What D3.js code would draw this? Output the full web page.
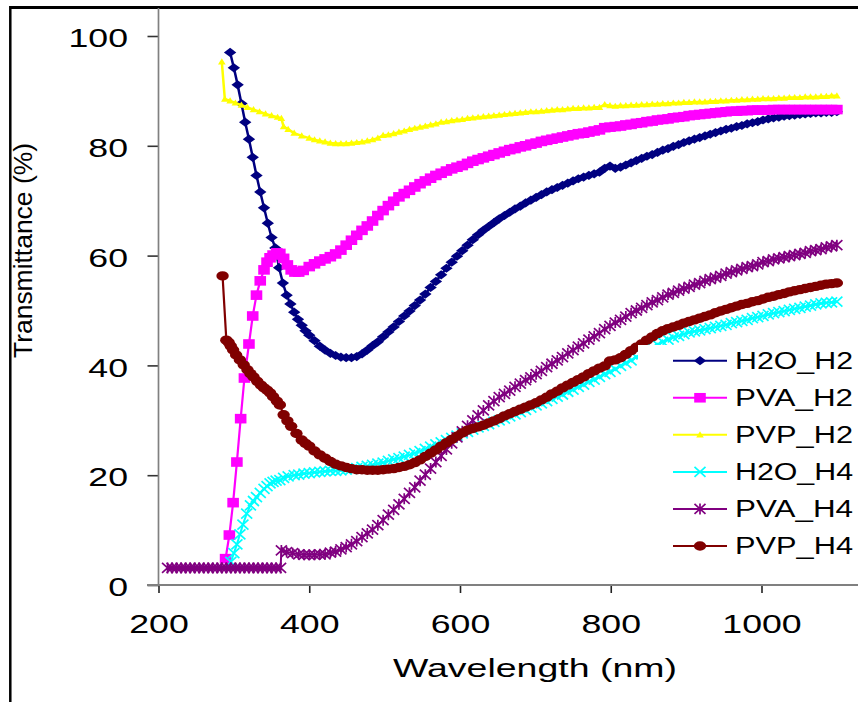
<!DOCTYPE html>
<html><head><meta charset="utf-8">
<script src="https://cdn.jsdelivr.net/npm/d3@7/dist/d3.min.js"></script>
<style>body{margin:0;background:#fff}svg{display:block}text{font-family:"Liberation Sans",Arial,sans-serif;fill:#000}</style>
</head><body><svg id="c" width="858" height="702"></svg>
<script>
// ---------- data ----------
const xTicks = [200, 400, 600, 800, 1000];
const yTicks = [0, 20, 40, 60, 80, 100];
const seriesNames = ["H2O_H2", "PVA_H2", "PVP_H2", "H2O_H4", "PVA_H4", "PVP_H4"];

// common wavelength grid (nm) of the dense part of every spectrum
const wlGrid = [400,407,414,421,428,435,442,449,456,463,470,477,484,491,498,505,512,519,526,533,540,547,554,561,568,575,582,589,596,603,610,617,624,631,638,645,652,659,666,673,680,687,694,701,708,715,722,729,736,743,750,757,764,771,778,785,792,799,806,813,820,827,834,841,848,855,862,869,876,883,890,897,904,911,918,925,932,939,946,953,960,967,974,981,988,995,1002,1009,1016,1023,1030,1037,1044,1051,1058,1065,1072,1079,1086,1093,1100];

// H2O_H2
const h2oH2EarlyX = [295,300,305,310,315,320,325,330,335,340,345,350,355,360,365,370,375,380,385,390,395];
const h2oH2EarlyY = [97.0,94.2,91.1,87.7,84.3,81.2,77.9,74.6,71.6,68.7,65.9,63.3,61.4,57.8,55.0,52.8,51.2,49.7,48.4,47.3,46.3];
const h2oH2GridY = [45.5,44.5,43.5,42.8,42.2,41.8,41.5,41.4,41.4,41.6,42.1,42.8,43.6,44.3,45.2,46.1,47.0,48.0,49.0,49.9,50.9,51.9,53.0,54.2,55.3,56.5,57.7,58.8,59.9,60.9,61.9,62.9,63.8,64.6,65.3,66.0,66.7,67.3,67.9,68.5,69.0,69.6,70.1,70.6,71.1,71.6,72.0,72.4,72.8,73.2,73.6,74.0,74.3,74.6,74.9,75.2,75.9,76.3,75.9,76.1,76.5,76.9,77.3,77.7,78.1,78.4,78.8,79.2,79.5,79.9,80.2,80.6,80.9,81.2,81.5,81.8,82.1,82.4,82.7,83.0,83.2,83.5,83.7,84.0,84.2,84.4,84.7,84.9,85.1,85.2,85.4,85.5,85.6,85.7,85.8,85.9,86.0,86.0,86.1,86.1,86.2];

// PVA_H2
const pvaH2EarlyX = [289,294,299,304,309,314,320,325,330,335,340,344,348,352,357,361,366,371,376,381,386,392];
const pvaH2EarlyY = [4.8,9.1,15.0,22.4,30.3,37.7,43.9,49.0,52.8,55.4,57.4,58.8,59.6,60.1,60.5,60.4,59.5,58.3,57.4,57.0,57.0,57.3];
const pvaH2GridY = [58.0,58.5,59.0,59.4,59.8,60.3,61.0,61.9,62.8,63.7,64.6,65.4,66.3,67.3,68.2,69.1,69.9,70.7,71.3,71.9,72.5,73.1,73.6,74.1,74.6,75.0,75.4,75.8,76.1,76.4,76.8,77.2,77.5,77.8,78.1,78.4,78.7,79.0,79.3,79.5,79.8,80.0,80.3,80.5,80.8,81.0,81.2,81.4,81.6,81.8,82.0,82.2,82.3,82.5,82.7,82.9,83.3,83.4,83.5,83.6,83.8,83.9,84.1,84.2,84.4,84.5,84.7,84.8,84.9,85.1,85.2,85.3,85.5,85.6,85.7,85.8,85.9,86.0,86.1,86.2,86.3,86.3,86.4,86.4,86.5,86.5,86.5,86.5,86.6,86.6,86.6,86.6,86.6,86.6,86.6,86.6,86.6,86.6,86.6,86.6,86.6];

// PVP_H2
const pvpH2EarlyX = [284,288,295,302,310,318,326,334,342,350,358,363,366,372,380,390];
const pvpH2EarlyY = [95.3,88.5,88.2,87.8,87.4,87.0,86.6,86.2,85.8,85.5,85.2,85.0,83.5,83.0,82.3,81.8];
const pvpH2GridY = [81.4,81.1,80.9,80.7,80.5,80.4,80.4,80.4,80.5,80.6,80.7,80.9,81.1,81.4,81.9,82.0,82.2,82.5,82.7,83.0,83.2,83.4,83.6,83.8,84.0,84.3,84.4,84.6,84.7,84.8,85.0,85.1,85.2,85.3,85.4,85.5,85.6,85.7,85.8,85.9,86.0,86.1,86.2,86.2,86.3,86.4,86.5,86.6,86.6,86.7,86.8,86.8,86.9,86.9,87.0,87.0,87.5,87.3,87.2,87.3,87.3,87.4,87.4,87.5,87.5,87.6,87.6,87.7,87.7,87.8,87.8,87.9,87.9,88.0,88.0,88.0,88.1,88.1,88.2,88.2,88.3,88.3,88.4,88.4,88.5,88.5,88.6,88.6,88.6,88.7,88.7,88.8,88.8,88.8,88.9,88.9,88.9,89.0,89.0,89.1,89.1];

// H2O_H4
const h2oH4EarlyX = [296,300,304,308,312,317,322,326,330,335,340,344,348,352,356,361,366,372,380,386,393];
const h2oH4EarlyY = [4.2,5.8,7.4,9.2,11.0,13.0,14.5,15.3,16.0,16.8,17.5,18.0,18.5,18.8,19.0,19.1,19.5,19.8,20.0,20.1,20.3];
const h2oH4GridY = [20.4,20.5,20.6,20.7,20.8,20.8,20.9,21.0,21.1,21.3,21.5,21.7,21.9,22.1,22.3,22.6,22.9,23.1,23.4,23.7,24.0,24.4,24.8,25.2,25.6,26.0,26.4,26.8,27.2,27.6,27.9,28.3,28.7,29.0,29.3,29.7,30.0,30.3,30.7,31.1,31.5,31.9,32.3,32.7,33.1,33.5,33.9,34.3,34.7,35.2,35.6,36.1,36.5,37.0,37.4,37.9,38.4,38.8,39.3,39.9,40.4,40.9,41.5,42.0,42.6,43.2,43.8,44.3,44.7,45.1,45.4,45.7,46.0,46.2,46.4,46.6,46.8,47.0,47.2,47.4,47.7,47.9,48.1,48.3,48.6,48.8,49.0,49.3,49.5,49.7,49.9,50.1,50.3,50.5,50.7,50.9,51.1,51.3,51.4,51.5,51.6];

// PVA_H4
const pvaH4EarlyX = [212,218,224,230,236,242,248,254,260,266,272,278,284,290,296,302,308,314,320,326,332,338,344,350,356,362,363,370,378,386,393];
const pvaH4EarlyY = [3.1,3.1,3.1,3.1,3.1,3.1,3.1,3.1,3.1,3.1,3.1,3.1,3.1,3.1,3.1,3.1,3.1,3.1,3.1,3.1,3.1,3.1,3.1,3.1,3.1,3.1,6.3,6.0,5.8,5.6,5.5];
const pvaH4GridY = [5.5,5.5,5.6,5.6,5.9,6.1,6.5,6.9,7.4,8.0,8.7,9.4,10.1,10.9,11.8,12.8,13.7,14.7,15.7,16.8,17.8,19.0,20.1,21.2,22.4,23.5,24.7,25.8,26.9,28.0,29.0,30.0,30.9,31.8,32.7,33.5,34.2,34.8,35.4,36.1,36.7,37.3,37.8,38.4,39.0,39.7,40.3,40.9,41.5,42.2,42.8,43.4,44.0,44.7,45.3,45.9,46.6,47.2,47.8,48.3,48.9,49.5,50.0,50.5,51.0,51.5,51.9,52.4,52.9,53.2,53.6,54.0,54.3,54.7,55.0,55.4,55.7,56.0,56.3,56.7,57.0,57.3,57.6,57.9,58.1,58.4,58.8,59.0,59.3,59.5,59.7,59.9,60.1,60.3,60.5,60.8,61.0,61.2,61.5,61.7,61.9];

// PVP_H4
const pvpH4EarlyX = [285,290,293,296,299,303,308,313,318,322,326,331,336,340,344,348,352,357,361,366,371,376,383,390,395];
const pvpH4EarlyY = [56.3,44.6,44.2,43.5,42.8,41.9,41.0,40.1,39.2,38.5,37.9,37.1,36.4,35.9,35.5,35.0,34.3,33.5,32.8,31.0,29.9,28.9,27.6,26.4,25.8];
const pvpH4GridY = [25.3,24.4,23.7,23.1,22.5,22.0,21.7,21.4,21.2,21.0,21.0,20.9,20.9,20.9,21.0,21.1,21.2,21.4,21.6,21.9,22.3,22.8,23.4,24.0,24.6,25.3,25.9,26.5,27.1,27.7,28.2,28.5,28.8,29.1,29.5,29.9,30.3,30.8,31.2,31.6,32.0,32.4,32.8,33.2,33.7,34.2,34.8,35.3,35.9,36.4,36.9,37.4,37.9,38.5,39.0,39.5,39.9,40.8,41.0,41.4,42.0,42.7,43.3,43.9,44.6,45.2,45.8,46.3,46.7,47.0,47.3,47.7,48.0,48.3,48.6,48.9,49.2,49.6,49.9,50.2,50.5,50.8,51.1,51.3,51.6,51.8,52.1,52.4,52.6,52.9,53.1,53.4,53.6,53.8,54.0,54.2,54.4,54.6,54.8,54.9,55.0];

// ---------- chart ----------
const svg = d3.select("#c");
const x = d3.scaleLinear().domain([200, 1000]).range([158.5, 761.5]);
const y = d3.scaleLinear().domain([0, 100]).range([585, 36]);
const FONT = '"Liberation Sans", Arial, sans-serif';

// outer frame (top + left edges)
svg.append("line").attr("x1", 10).attr("x2", 858).attr("y1", 7.5).attr("y2", 7.5).attr("stroke", "#000").attr("stroke-width", 3);
svg.append("line").attr("x1", 10.3).attr("x2", 10.3).attr("y1", 6).attr("y2", 702).attr("stroke", "#000").attr("stroke-width", 2.5);

// y axis
const gy = svg.append("g").attr("transform", `translate(${x(200)},0)`)
  .call(d3.axisLeft(y).tickValues(yTicks).tickSize(11).tickSizeOuter(0).tickFormat(d3.format("d")));
gy.select(".domain").remove();
gy.selectAll(".tick line").attr("stroke", "#333").attr("stroke-width", 1.6);
gy.selectAll(".tick text").attr("x", null).attr("dy", null)
  .attr("font-family", FONT).attr("font-size", 25.5).attr("text-anchor", "end").attr("fill", "#000")
  .attr("transform", "translate(-30.5,10.6) scale(1.4,1)");
svg.append("line").attr("x1", x(200)).attr("x2", x(200)).attr("y1", 8).attr("y2", y(0))
  .attr("stroke", "#808080").attr("stroke-width", 1.7);

// x axis
const gx = svg.append("g").attr("transform", `translate(0,${y(0)})`)
  .call(d3.axisBottom(x).tickValues(xTicks).tickSize(8).tickSizeOuter(0).tickFormat(d3.format("d")));
gx.select(".domain").remove();
gx.selectAll(".tick line").attr("stroke", "#222").attr("stroke-width", 1.6);
gx.selectAll(".tick text").attr("y", null).attr("dy", null)
  .attr("font-family", FONT).attr("font-size", 25.5).attr("text-anchor", "middle").attr("fill", "#000")
  .attr("transform", "translate(0,48) scale(1.4,1)");
svg.append("line").attr("x1", 147).attr("x2", 858).attr("y1", y(0)).attr("y2", y(0))
  .attr("stroke", "#808080").attr("stroke-width", 2);

// axis titles
svg.append("text").attr("transform", "translate(535,677) scale(1.47,1)")
  .attr("text-anchor", "middle").attr("font-size", 25.5).attr("font-family", FONT).text("Wavelength (nm)");
svg.append("text").attr("transform", "translate(31.5,250.5) rotate(-90)")
  .attr("text-anchor", "middle").attr("font-size", 26.5).attr("font-family", FONT)
  .attr("textLength", 215).attr("lengthAdjust", "spacingAndGlyphs").text("Transmittance (%)");

// marker shapes
const shapes = {
  diamond: "M0,-4.6L6.2,0L0,4.6L-6.2,0Z",
  square: "M-5.8,-4.8h11.6v9.6h-11.6Z",
  triangle: "M0,-3.6L3.8,2.6L-3.8,2.6Z",
  cross: "M-5.5,-5L5.5,5M-5.5,5L5.5,-5",
  star: "M-5.5,-5L5.5,5M-5.5,5L5.5,-5M0,-5.5V5.5",
  circle: "M-6.2,0a6.2,4.7 0 1,0 12.4,0a6.2,4.7 0 1,0 -12.4,0Z"
};

const series = [
  {name: seriesNames[0], xs: h2oH2EarlyX.concat(wlGrid), ys: h2oH2EarlyY.concat(h2oH2GridY), color: "#000080", shape: "diamond", lw: 2.5, filled: true},
  {name: seriesNames[1], xs: pvaH2EarlyX.concat(wlGrid), ys: pvaH2EarlyY.concat(pvaH2GridY), color: "#FF00FF", shape: "square", lw: 2.2, filled: true},
  {name: seriesNames[2], xs: pvpH2EarlyX.concat(wlGrid), ys: pvpH2EarlyY.concat(pvpH2GridY), color: "#FFFF00", shape: "triangle", lw: 2.5, filled: true},
  {name: seriesNames[3], xs: h2oH4EarlyX.concat(wlGrid), ys: h2oH4EarlyY.concat(h2oH4GridY), color: "#00FFFF", shape: "cross", lw: 2, filled: false},
  {name: seriesNames[4], xs: pvaH4EarlyX.concat(wlGrid), ys: pvaH4EarlyY.concat(pvaH4GridY), color: "#800080", shape: "star", lw: 2, filled: false},
  {name: seriesNames[5], xs: pvpH4EarlyX.concat(wlGrid), ys: pvpH4EarlyY.concat(pvpH4GridY), color: "#800000", shape: "circle", lw: 2.2, filled: true}
];

const line = d3.line().x(d => x(d[0])).y(d => y(d[1]));
const plot = svg.append("g");
series.forEach(s => {
  const pts = s.xs.map((v, i) => [v, s.ys[i]]);
  const g = plot.append("g");
  g.append("path").datum(pts).attr("d", line).attr("fill", "none")
    .attr("stroke", s.color).attr("stroke-width", s.lw).attr("stroke-linejoin", "round");
  g.selectAll("path.m").data(pts).join("path").attr("class", "m")
    .attr("transform", d => `translate(${x(d[0])},${y(d[1])})`)
    .attr("d", shapes[s.shape])
    .attr("fill", s.filled ? s.color : "none")
    .attr("stroke", s.filled ? "none" : s.color)
    .attr("stroke-width", 1.7);
});

// legend
const lg = svg.append("g");
lg.append("rect").attr("x", 638).attr("y", 345).attr("width", 220).attr("height", 226).attr("fill", "#fff");
series.forEach((s, i) => {
  const cy = 360.7 + i * 37.06;
  lg.append("line").attr("x1", 673).attr("x2", 727).attr("y1", cy).attr("y2", cy)
    .attr("stroke", s.color).attr("stroke-width", 2);
  lg.append("path").attr("transform", `translate(700,${cy})`).attr("d", shapes[s.shape])
    .attr("fill", s.filled ? s.color : "none").attr("stroke", s.filled ? "none" : s.color).attr("stroke-width", 1.7);
  lg.append("text").attr("transform", `translate(735,${cy + 8})`)
    .attr("font-size", 23.3).attr("font-family", FONT)
    .attr("textLength", 118).attr("lengthAdjust", "spacingAndGlyphs").text(s.name);
});
</script></body></html>
